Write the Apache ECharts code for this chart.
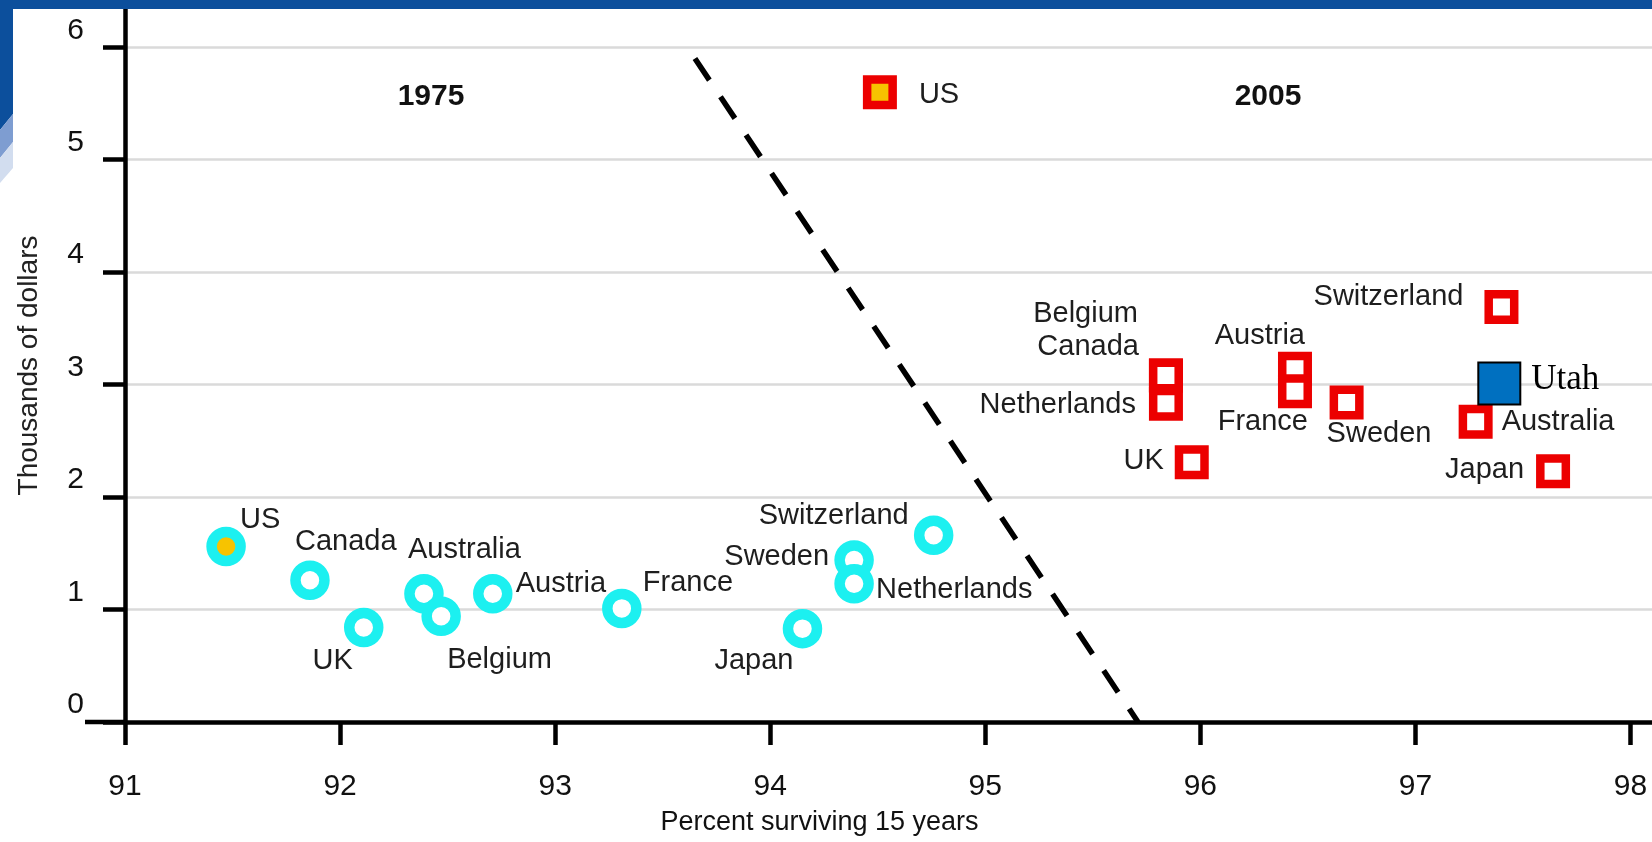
<!DOCTYPE html>
<html>
<head>
<meta charset="utf-8">
<script src="https://cdn.jsdelivr.net/npm/echarts@6.0.0/dist/echarts.min.js"></script>
<style>
  html, body { margin: 0; padding: 0; background: #fff; }
  #chart { width: 1652px; height: 842px; }
</style>
</head>
<body>
<div id="chart"></div>
<script>
// axis ticks
const xTicks = [91, 92, 93, 94, 95, 96, 97, 98];
const yTicks = [0, 1, 2, 3, 4, 5, 6];

// 1975: percent surviving 15 years vs spending (thousands of dollars)
const countries1975 = ['US', 'Canada', 'UK', 'Australia', 'Belgium', 'Austria', 'France', 'Japan', 'Sweden', 'Netherlands', 'Switzerland'];
const survival1975 = [91.47, 91.86, 92.11, 92.39, 92.47, 92.71, 93.31, 94.15, 94.39, 94.39, 94.76];
const spending1975 = [1.56, 1.26, 0.84, 1.14, 0.94, 1.14, 1.01, 0.83, 1.44, 1.23, 1.66];

// 2005
const countries2005 = ['US', 'Switzerland', 'Belgium', 'Canada', 'Netherlands', 'UK', 'Austria', 'France', 'Sweden', 'Australia', 'Japan'];
const survival2005 = [94.51, 97.40, 95.84, 95.84, 95.84, 95.96, 96.44, 96.44, 96.68, 97.28, 97.64];
const spending2005 = [5.60, 3.69, 3.08, 3.08, 2.83, 2.31, 3.14, 2.94, 2.84, 2.67, 2.23];

// Utah
const utahName = ['Utah'];
const utahSurvival = [97.39];
const utahSpending = [3.01];

// dashed divider between the two periods
const dividerX = [93.65, 95.71];
const dividerY = [5.9, 0];

// label placement: [align, dx, dy] from marker centre
const place1975 = {
  US: ['left', 14, -27],
  Canada: ['left', -15, -38],
  UK: ['right', -11, 33],
  Australia: ['left', -16, -44],
  Belgium: ['left', 6, 44],
  Austria: ['left', 23, -10],
  France: ['left', 21, -25],
  Japan: ['right', -9, 32],
  Sweden: ['right', -25, -3],
  Netherlands: ['left', 22, 6],
  Switzerland: ['right', -25, -19]
};
const place2005 = {
  US: ['left', 39, 3],
  Switzerland: ['right', -38, -10],
  Belgium: ['right', -28, -62],
  Canada: ['right', -27, -29],
  Netherlands: ['right', -30, 1],
  UK: ['right', -28, -1],
  Austria: ['right', 10, -33],
  France: ['right', 13, 31],
  Sweden: ['left', -20, 31],
  Australia: ['left', 26, 0],
  Japan: ['right', -29, -1]
};
const placeUtah = { Utah: ['left', 32, -4] };

const FONT = '"Liberation Sans", Arial, sans-serif';
const CYAN = '#1cf0f0';
const RED = '#ec0000';
const GOLD = '#f7c300';
const BLUE = '#0c4f9c';

function points(names, xs, ys, place) {
  return names.map((n, i) => {
    const p = place[n];
    const item = {
      name: n,
      value: [xs[i], ys[i]],
      label: { align: p[0], offset: [p[1], p[2]] }
    };
    if (n === 'US') item.itemStyle = { color: GOLD };
    return item;
  });
}

const labelBase = {
  show: true,
  position: 'inside',
  formatter: '{b}',
  color: '#1e1e1e',
  fontSize: 29,
  fontFamily: FONT,
  verticalAlign: 'middle',
  textBorderWidth: 0,
  textBorderColor: 'transparent'
};

const chart = echarts.init(document.getElementById('chart'));

const option = {
  animation: false,
  backgroundColor: '#fff',
  grid: { left: 125, right: 0, top: 9, bottom: 120 },
  xAxis: {
    type: 'value',
    min: 91,
    max: 98.1,
    axisLine: { show: true, onZero: false, lineStyle: { color: '#000', width: 4.5 } },
    axisTick: { show: true, customValues: xTicks, length: 23, lineStyle: { color: '#000', width: 4.5 } },
    axisLabel: { customValues: xTicks, margin: 50, fontSize: 30, color: '#111', fontFamily: FONT },
    splitLine: { show: false },
    name: 'Percent surviving 15 years',
    nameLocation: 'middle',
    nameGap: 87,
    nameTextStyle: { fontSize: 27, color: '#111', fontFamily: FONT, padding: [0, 138, 0, 0] }
  },
  yAxis: {
    type: 'value',
    min: 0,
    max: 6.34,
    axisLine: { show: true, onZero: false, lineStyle: { color: '#000', width: 4.5 } },
    axisTick: { show: true, customValues: yTicks, length: 22, lineStyle: { color: '#000', width: 4.5 } },
    axisLabel: {
      customValues: yTicks, margin: 41, fontSize: 30, color: '#111', fontFamily: FONT,
      verticalAlign: 'bottom', padding: [0, 0, 2, 0]
    },
    splitLine: { show: true, lineStyle: { color: '#dadada', width: 2.5 } },
    name: 'Thousands of dollars',
    nameLocation: 'middle',
    nameGap: 82,
    nameTextStyle: { fontSize: 28, color: '#222', fontFamily: FONT }
  },
  series: [
    {
      name: 'divider',
      type: 'line',
      data: dividerX.map((x, i) => [x, dividerY[i]]),
      symbol: 'none',
      silent: true,
      lineStyle: { color: '#000', width: 5.5, type: [26, 20], cap: 'butt' },
      z: 1
    },
    {
      name: '1975',
      type: 'scatter',
      data: points(countries1975, survival1975, spending1975, place1975),
      symbol: 'circle',
      symbolSize: 29,
      itemStyle: { color: '#fff', borderColor: CYAN, borderWidth: 10.5, opacity: 1 },
      label: labelBase,
      z: 3
    },
    {
      name: '2005',
      type: 'scatter',
      data: points(countries2005, survival2005, spending2005, place2005),
      symbol: 'rect',
      symbolSize: 25.5,
      itemStyle: { color: '#fff', borderColor: RED, borderWidth: 8.5, opacity: 1 },
      label: labelBase,
      z: 3
    },
    {
      name: 'Utah',
      type: 'scatter',
      data: points(utahName, utahSurvival, utahSpending, placeUtah),
      symbol: 'rect',
      symbolSize: 42,
      itemStyle: { color: '#0070c0', borderColor: '#000', borderWidth: 2, opacity: 1 },
      label: Object.assign({}, labelBase, {
        color: '#000', fontSize: 35, fontFamily: '"Liberation Serif", "Times New Roman", serif'
      }),
      z: 4
    }
  ],
  graphic: [
    { type: 'rect', z: 100, shape: { x: 0, y: 0, width: 1652, height: 9 }, style: { fill: BLUE } },
    { type: 'polygon', z: 100, shape: { points: [[0, 0], [13, 0], [13, 114], [0, 130]] }, style: { fill: BLUE } },
    { type: 'polygon', z: 100, shape: { points: [[0, 130], [13, 114], [13, 142], [0, 158]] }, style: { fill: '#7e9dd1' } },
    { type: 'polygon', z: 100, shape: { points: [[0, 158], [13, 142], [13, 168], [0, 183]] }, style: { fill: '#d2ddef' } },
    { type: 'line', z: 50, shape: { x1: 85, y1: 722, x2: 125, y2: 722 }, style: { stroke: '#000', lineWidth: 4.5 } },
    {
      type: 'text', z: 50, x: 431, y: 97,
      style: { text: '1975', font: 'bold 30px ' + FONT, fill: '#111', align: 'center', verticalAlign: 'middle' }
    },
    {
      type: 'text', z: 50, x: 1268, y: 97,
      style: { text: '2005', font: 'bold 30px ' + FONT, fill: '#111', align: 'center', verticalAlign: 'middle' }
    }
  ]
};

chart.setOption(option);
</script>
</body>
</html>
